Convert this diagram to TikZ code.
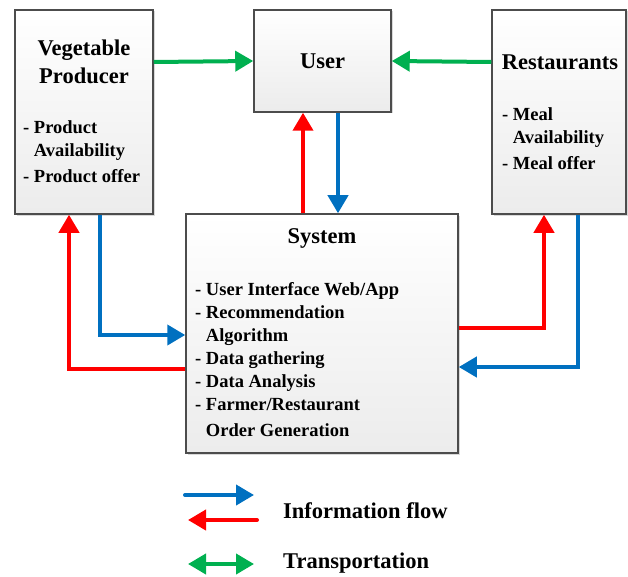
\documentclass[tikz,border=0pt]{standalone}
\usepackage{fontspec}
\setmainfont{Liberation Serif}
\usetikzlibrary{arrows.meta,shadows}

\definecolor{infoblue}{RGB}{0,112,192}
\definecolor{inforeed}{RGB}{255,0,0}
\definecolor{transgreen}{RGB}{0,176,80}

\begin{document}
\begin{tikzpicture}
        [x=1pt, y=-1pt,
        box/.style={rectangle, draw=black!70, line width=1.5pt, top color=white, bottom color=gray!15,
            drop shadow={shadow xshift=1.5pt, shadow yshift=-1.5pt, opacity=0.3, fill=gray}},
        title/.style={font=\bfseries\fontsize{22.5}{28}\selectfont, align=center, inner sep=0},
        items/.style={font=\bfseries\fontsize{18.5}{23}\selectfont, align=left, anchor=west, inner sep=0},
        info/.style={infoblue, line width=4pt, -{Triangle[length=18pt,width=20pt]}},
        back/.style={inforeed, line width=4pt, -{Triangle[length=18pt,width=20pt]}},
        trans/.style={transgreen, line width=4pt, -{Triangle[length=18pt,width=20pt]}}]

        \useasboundingbox (0,0) rectangle (628,577);

        % boxes
        \node[box, minimum width=138pt, minimum height=204pt] (veg) at (84,112) {};
        \node[box, minimum width=137pt, minimum height=102pt] (user) at (322.5,61) {};
        \node[box, minimum width=134pt, minimum height=204pt] (rest) at (559,112) {};
        \node[box, minimum width=272pt, minimum height=239pt] (sys) at (322,333.5) {};

        % box texts
        \node[title] (vegname) at (84,62) {Vegetable\\Producer};
        \node[items] (vegitems) at (23,152) {- Product\\\phantom{- }Availability\\[3pt]- Product offer};
        \node[title] (username) at (322.5,61) {User};
        \node[title] (restname) at (560,62) {Restaurants};
        \node[items] (restitems) at (502,139) {- Meal\\\phantom{- }Availability\\[3pt]- Meal offer};
        \node[title] (sysname) at (322,238) {System};
        \node[items] (sysitems) at (195,360) {- User Interface Web/App\\- Recommendation\\\phantom{- }Algorithm\\- Data gathering\\- Data Analysis\\- Farmer/Restaurant\\[3pt]\phantom{- }Order Generation};

        % transportation
        \draw[trans] ([yshift=50pt]veg.east) -- (user.west);
        \draw[trans] ([yshift=50pt]rest.west) -- (user.east);

        % information flow
        \draw[back] ([xshift=-19pt]sys.north) -- ([xshift=-19.5pt]user.south);
        \draw[info] ([xshift=15.5pt]user.south) -- ([xshift=16pt]sys.north);
        \draw[back] ([yshift=-35.5pt]sys.west) -| ([xshift=-15pt]veg.south);
        \draw[info] ([xshift=16pt]veg.south) |- ([yshift=-1.5pt]sys.west);
        \draw[back] ([yshift=5.5pt]sys.east) -| ([xshift=-15pt]rest.south);
        \draw[info] ([xshift=19pt]rest.south) |- ([yshift=-33.5pt]sys.east);

        % legend
        \coordinate (b1) at (185,495);
        \coordinate (b2) at (254,495);
        \coordinate (r1) at (257,520);
        \coordinate (r2) at (188,520);
        \coordinate (g1) at (188,564);
        \coordinate (g2) at (254,564);
        \draw[info, line cap=round] (b1) -- (b2);
        \draw[back, line cap=round] (r1) -- (r2);
        \draw[trans, {Triangle[length=18pt,width=20pt]}-{Triangle[length=18pt,width=20pt]}] (g1) -- (g2);
        \node[title, anchor=west] (infolabel) at (283,511) {Information flow};
        \node[title, anchor=west] (translabel) at (283,563) {Transportation};

    \end{tikzpicture}
\end{document}
